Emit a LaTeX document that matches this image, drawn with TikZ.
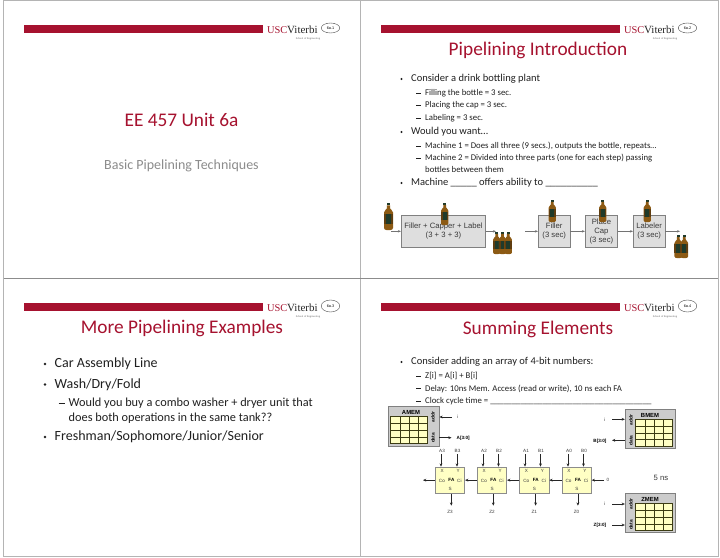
\documentclass[tikz,border=0pt]{standalone}
\usepackage{fontspec}
\setmainfont{Carlito}
\newfontfamily\arial{Liberation Sans}
\newfontfamily\tms{Liberation Serif}
\usetikzlibrary{arrows.meta,shapes.geometric,calc}
\definecolor{uscred}{HTML}{A6122F}
\definecolor{framegray}{HTML}{B4B4B4}
\definecolor{memyel}{HTML}{FFFFC4}
\definecolor{bodyink}{HTML}{202020}
\definecolor{diagink}{HTML}{3A3A3A}
\definecolor{brbody}{HTML}{8C5A14}
\definecolor{brdark}{HTML}{5E3D10}
\definecolor{brlabel}{HTML}{1F3A2A}
\definecolor{gridink}{HTML}{3C3C14}
\newcommand{\fsz}[1]{\fontsize{#1}{#1}\selectfont}
\tikzset{
  tx/.style={inner sep=0pt,anchor=west,text=bodyink},
  ctr/.style={inner sep=0pt,anchor=center},
  title/.style={ctr,text=uscred,font=\fsz{19.3}},
  lvla/.style={tx,font=\fsz{10.5}},
  lvlb/.style={tx,font=\fsz{8.75}},
  lvlaB/.style={tx,font=\fsz{14}},
  lvlbB/.style={tx,font=\fsz{12.3}},
  procbox/.style={draw=black!50,fill=black!13,line width=.7pt,inner sep=0pt,align=center,font=\arial\fsz{7.7},text=diagink},
  garr/.style={draw=black!55,line width=.5pt,-{Stealth[length=3pt,width=2.4pt]}},
  karr/.style={draw=black!85,line width=.7pt,-{Stealth[length=3.2pt,width=2.8pt]}},
  memouter/.style={draw=black!50,fill=black!20,line width=.9pt,inner sep=0pt},
  fablock/.style={draw=black!45,fill=memyel,line width=.7pt,inner sep=0pt,minimum width=29.4pt,minimum height=26.3pt},
  tiny/.style={ctr,font=\arial\fsz{4.6},text=diagink},
  tinyb/.style={ctr,font=\arial\bfseries\fsz{4.6},text=black},
}
\newcommand{\logo}[4]{%
  \begin{scope}[shift={(#2,#3)}]
    \fill[uscred] (23.5,24.5) rectangle (263,32.5);
    \node[ctr,anchor=base west,text=uscred,font=\tms\fsz{10.4}] (#1usc) at (267,33.4) {USC};
    \node[ctr,anchor=base west,text=black!85,font=\tms\fsz{11}] (#1vit) at (287,33.4) {Viterbi};
    \node[ctr,text=black!60,font=\tms\fsz{2.7}] (#1sch) at (308,39) {School of Engineering};
    \node[ellipse,draw=black!70,line width=.4pt,minimum width=18.5pt,minimum height=#4pt,inner sep=0pt] (#1bub) at (330.5,28) {};
  \end{scope}}
\newcommand{\bullt}[3]{\fill[bodyink] (#1,#2) circle (#3);}
\newcommand{\dsh}[3]{\draw[bodyink,line width=.55pt] (#1,#2) -- ++(#3,0);}
\newcommand{\bottle}[3]{%
  \begin{scope}[shift={(#1,#2)},yscale=#3/27,xscale=#3/27]
    \fill[brlabel] (-1.7,0) rectangle (1.7,2.4);
    \fill[brbody] (-1.6,2.4) -- (1.6,2.4) -- (1.7,5.5) .. controls (1.9,7) and (4.4,7) .. (4.5,9.5) -- (4.5,25) .. controls (4.5,26.5) and (3,27) .. (2,27) -- (-2,27) .. controls (-3,27) and (-4.5,26.5) .. (-4.5,25) -- (-4.5,9.5) .. controls (-4.4,7) and (-1.9,7) .. (-1.7,5.5) -- cycle;
    \fill[brdark] (-4.5,11) rectangle (4.5,21);
    \fill[brlabel] (-2.4,11) rectangle (2.4,21);
  \end{scope}}
\newcommand{\memory}[9]{%
  \node[memouter,minimum width=#4-#2,minimum height=#5-#3] (#1) at ({(#2+#4)/2},{(#3+#5)/2}) {};
  \begin{scope}[shift={#6}]
    \fill[memyel] (0,0) rectangle (37,27);
    \draw[gridink,line width=.55pt] (0,0) rectangle (37,27);
    \foreach \i in {1,2,3} {\draw[gridink,line width=.55pt] ({\i*9.25},0) -- ({\i*9.25},27);
      \draw[gridink,line width=.55pt] (0,{\i*6.75}) -- (37,{\i*6.75});}
  \end{scope}
  \node[ctr,font=\arial\bfseries\fsz{5.9},text=black] (#1t) at #7 {#9};
  \node[ctr,rotate=90,font=\arial\bfseries\fsz{4.8},text=black] (#1ad) at #8 {addr};
}
\newcommand{\fa}[2]{%
  \node[fablock] (#1) at (#2,480.15) {};
  \node[tiny] (#1x) at (#2-7.8,471.3) {X};
  \node[tiny] (#1y) at (#2+8.2,471.3) {Y};
  \node[tiny] (#1co) at (#2-8.1,481) {Co};
  \node[tinyb] (#1fa) at (#2+1.4,479.8) {FA};
  \node[tiny] (#1ci) at (#2+9.4,481) {Ci};
  \node[tiny] (#1s) at (#2+0.2,489.3) {S};
}
\newcommand{\faio}[4]{%
  \node[tiny] (lA#4) at (#2,451) {A#4};
  \node[tiny] (lB#4) at (#3,451) {B#4};
  \node[tiny] (lZ#4) at ($(#1.south)+(0,17.8)$) {Z#4};
  \coordinate (sA#4) at (#2-1,454);
  \coordinate (sB#4) at (#3-.5,454);
  \coordinate (eZ#4) at ($(#1.south)+(1.3,12)$);
  \draw[karr] (sA#4) -- (sA#4 |- #1.north);
  \draw[karr] (sB#4) -- (sB#4 |- #1.north);
  \draw[karr] (eZ#4 |- #1.south) -- (eZ#4);
}
\begin{document}
\begin{tikzpicture}[x=1pt,y=-1pt]
\useasboundingbox (0,0) rectangle (720,557);
\fill[white] (0,0) rectangle (720,557);
\draw[framegray,line width=1pt] (3.5,.5) -- (718,.5) -- (718,556.5) -- (3.5,556.5) -- cycle;
\draw[framegray,line width=1pt] (360,.5) -- (360,556.5);
\draw[black!45,line width=1pt] (3.5,278) -- (718,278);
\logo{la}{0}{0}{10}
\logo{lb}{357}{0}{10}
\logo{lc}{0}{278}{12}
\logo{ld}{357}{278}{12}
\node[ctr,font=\arial\fsz{3.8}] (na) at (330.5,28) {6a.1};
\node[ctr,font=\arial\fsz{3.8}] (nb) at (687.5,28) {6a.2};
\node[ctr,font=\arial\fsz{3.8}] (nc) at (330.5,306) {6a.3};
\node[ctr,font=\arial\fsz{3.8}] (nd) at (687.5,306) {6a.4};
% slide 1
\node[title] (t1) at (181.5,120) {EE 457 Unit 6a};
\node[ctr,text=black!45,font=\fsz{14}] (t1b) at (181.5,165.5) {Basic Pipelining Techniques};
% slide 2
\node[title] (t2) at (538,50.5) {Pipelining Introduction};
\bullt{401.5}{79}{1.1}
\node[lvla] (b1) at (411,79) {Consider a drink bottling plant};
\dsh{416}{93}{5}
\node[lvlb] (b2) at (425,93) {Filling the bottle = 3 sec.};
\dsh{416}{105.5}{5}
\node[lvlb] (b3) at (425,105.5) {Placing the cap = 3 sec.};
\dsh{416}{118}{5}
\node[lvlb] (b4) at (425,118) {Labeling = 3 sec.};
\bullt{401.5}{132}{1.1}
\node[lvla] (b5) at (411,132) {Would you want…};
\dsh{416}{146}{5}
\node[lvlb] (b6) at (425,146) {Machine 1 = Does all three (9 secs.), outputs the bottle, repeats…};
\dsh{416}{158.5}{5}
\node[lvlb] (b7) at (425,158.5) {Machine 2 = Divided into three parts (one for each step) passing};
\node[lvlb] (b8) at (425,169) {bottles between them};
\bullt{401.5}{183}{1.1}
\node[lvla] (b9) at (411,183) {Machine \_\_\_\_\_ offers ability to \_\_\_\_\_\_\_\_\_\_};
% bottling diagram
\node[procbox,minimum width=84.4pt,minimum height=32pt] (m1) at (443.5,231.3) {Filler + Capper + Label\\[1.5pt](3 + 3 + 3)};
\node[procbox,minimum width=31.7pt,minimum height=32pt] (f) at (554.2,231.3) {Filler\\[1.5pt](3 sec)};
\node[procbox,minimum width=32.2pt,minimum height=32pt] (c) at (601.4,231.3) {Place\\[1.5pt]Cap\\[1.5pt](3 sec)};
\node[procbox,minimum width=31.7pt,minimum height=32pt] (l) at (649.2,231.3) {Labeler\\[1.5pt](3 sec)};
\coordinate (m1in) at (391,231.3);
\coordinate (m1out) at (496,231.3);
\coordinate (fin) at (525,231.3);
\coordinate (lout) at (680,231.3);
\draw[garr] (m1in) -- (m1);
\draw[garr] (m1) -- (m1out);
\draw[garr] (fin) -- (f);
\draw[garr] (f) -- (c);
\draw[garr] (c) -- (l);
\draw[garr] (l) -- (lout);
\bottle{388.5}{203}{27}
\bottle{444.7}{203}{22}
\bottle{496.7}{232}{22}
\bottle{502.5}{232}{22}
\bottle{508.3}{232}{22}
\bottle{552.3}{200}{22}
\bottle{602.7}{200}{22}
\bottle{647.3}{200}{22}
\bottle{678.3}{235}{23}
\bottle{684.3}{235}{23}
% slide 3
\node[title] (t3) at (182,328) {More Pipelining Examples};
\bullt{45}{364}{1.3}
\node[lvlaB] (c1) at (54.5,364) {Car Assembly Line};
\bullt{45}{384.5}{1.3}
\node[lvlaB] (c2) at (54.5,384.5) {Wash/Dry/Fold};
\dsh{58.5}{403}{6}
\node[lvlbB] (c3) at (68.5,403) {Would you buy a combo washer + dryer unit that};
\node[lvlbB] (c4) at (68.5,418) {does both operations in the same tank??};
\bullt{45}{437}{1.3}
\node[lvlaB] (c5) at (54.5,437) {Freshman/Sophomore/Junior/Senior};
% slide 4
\node[title] (t4) at (538,329) {Summing Elements};
\bullt{401.5}{362}{1.1}
\node[lvla] (d1) at (411,362) {Consider adding an array of 4-bit numbers:};
\dsh{416}{376}{5}
\node[lvlb] (d2) at (425,376) {Z[i] = A[i] + B[i]};
\dsh{416}{388.5}{5}
\node[lvlb] (d3) at (425,388.5) {Delay: 10ns Mem. Access (read or write), 10 ns each FA};
\dsh{416}{401}{5}
\node[lvlb] (d4) at (425,401) {Clock cycle time = \_\_\_\_\_\_\_\_\_\_\_\_\_\_\_\_\_\_\_\_\_\_\_\_\_\_\_\_\_\_\_\_\_\_\_\_\_};
% memories
\memory{am}{388.3}{406}{439}{446}{(390.7,416.7)}{(411,412.3)}{(433,417)}{AMEM}
\node[ctr,rotate=90,font=\arial\bfseries\fsz{4.8},text=black] (amd) at (433,438) {data};
\memory{bm}{625.3}{409}{675.7}{448.3}{(635.7,419.3)}{(650,415)}{(631,420)}{BMEM}
\node[ctr,rotate=90,font=\arial\bfseries\fsz{4.8},text=black] (bmd) at (631,440.5) {data};
\memory{zm}{625.3}{493.3}{675.7}{532.7}{(635.7,503.7)}{(650,499)}{(631,504)}{ZMEM}
\node[ctr,rotate=90,font=\arial\bfseries\fsz{4.8},text=black] (zmd) at (631,525) {data};
\node[tiny] (ai) at (458,417) {i};
\node[tinyb,anchor=west] (ad) at (456.5,438) {A[3:0]};
\node[tiny] (bi) at (605,419.5) {i};
\node[tinyb] (bd) at (600,441) {B[3:0]};
\node[tiny] (zi) at (605,504) {i};
\node[tinyb] (zd) at (600,525) {Z[3:0]};
\coordinate (aie) at (451.5,417);
\coordinate (ade) at (451.5,437.7);
\coordinate (bie) at (612,419.3);
\coordinate (bde) at (612,440.3);
\coordinate (zie) at (612,504);
\coordinate (zde) at (612,525);
\draw[karr] (aie) -- (am.east |- aie);
\draw[karr] (am.east |- ade) -- (ade);
\draw[karr] (bie) -- (bm.west |- bie);
\draw[karr] (bm.west |- bde) -- (bde);
\draw[karr] (zie) -- (zm.west |- zie);
\draw[karr] (zde) -- (zm.west |- zde);
\node[ctr,font=\arial\fsz{7.7},text=diagink] (fivens) at (661,478) {5 ns};
% full adders
\fa{fa3}{450}
\fa{fa2}{492}
\fa{fa1}{534.3}
\fa{fa0}{576.6}
\faio{fa3}{442}{457.5}{3}
\faio{fa2}{484}{499}{2}
\faio{fa1}{526}{541}{1}
\faio{fa0}{569}{584}{0}
\coordinate (coutl) at (423,480.15);
\coordinate (cinr) at (604,480.15);
\node[tiny] (cin0) at (608,480) {0};
\draw[karr] (fa3.west) -- (coutl);
\draw[karr] (fa2.west) -- (fa3.east);
\draw[karr] (fa1.west) -- (fa2.east);
\draw[karr] (fa0.west) -- (fa1.east);
\draw[karr] (cinr) -- (fa0.east);
\end{tikzpicture}
\end{document}
